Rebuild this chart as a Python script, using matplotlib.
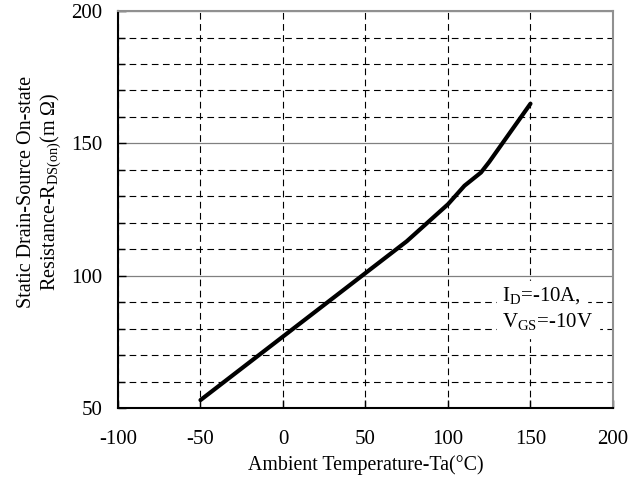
import matplotlib
matplotlib.use("Agg")
import matplotlib.pyplot as plt
from matplotlib.ticker import MultipleLocator

plt.rcParams['font.family'] = ['Liberation Serif', 'DejaVu Serif']
plt.rcParams['mathtext.fontset'] = 'custom'
plt.rcParams['mathtext.rm'] = 'Liberation Serif'
plt.rcParams['axes.unicode_minus'] = False

# curve
temp = [-50, -25, 0, 25, 50, 75, 100, 110, 120, 125, 150]
rdson = [53, 65, 77, 89, 101, 113, 127, 134, 139, 143, 165]

x_ticks = [-100, -50, 0, 50, 100, 150, 200]
y_ticks = [50, 100, 150, 200]

fig = plt.figure(figsize=(6.43, 4.82), dpi=100)
ax = fig.add_axes([0.1835, 0.1535, 0.7698, 0.8235])

ax.set_xlim(-100, 200)
ax.set_ylim(50, 200)
ax.set_xticks(x_ticks)
ax.set_yticks(y_ticks)
ax.yaxis.set_minor_locator(MultipleLocator(10))

# grid: dashed minor rows, solid gray major rows, dashed columns
ax.grid(True, which='minor', axis='y', color='black', linestyle=(0, (6, 4)), linewidth=0.8)
ax.grid(True, which='major', axis='y', color='#808080', linestyle='-', linewidth=0.9)
ax.grid(True, which='major', axis='x', color='black', linestyle=(0, (6, 4)), linewidth=0.8)

ax.plot(temp, rdson, color='black', linewidth=3, solid_capstyle='round', zorder=3)

ax.tick_params(axis='both', which='both', direction='in', labelsize=15,
               right=False, top=False, width=1)
ax.tick_params(axis='y', which='major', length=6, pad=11)
ax.tick_params(axis='y', which='minor', length=5)
ax.tick_params(axis='x', which='major', length=6, pad=16)

for side in ('top', 'right'):
    ax.spines[side].set_color('#909090')
    ax.spines[side].set_linewidth(1.5)
for side in ('left', 'bottom'):
    ax.spines[side].set_color('black')
    ax.spines[side].set_linewidth(1.5)

ax.set_xlabel('Ambient Temperature-Ta(°C)', fontsize=14.3, labelpad=4)
ax.set_ylabel('Static Drain-Source On-state\nResistance-R$_{\\mathregular{DS(on)}}$(m $\\Omega$)',
              fontsize=14.5, linespacing=1.15)
ax.yaxis.set_label_coords(-0.11, 0.544)

ax.text(133, 92, 'I$_{\\mathregular{D}}$=-10A,', fontsize=15, va='center', ha='left',
        backgroundcolor='white', zorder=4)
ax.text(133, 82.5, 'V$_{\\mathregular{GS}}$=-10V', fontsize=15, va='center', ha='left',
        backgroundcolor='white', zorder=4)

fig.savefig('out.png', dpi=100)
